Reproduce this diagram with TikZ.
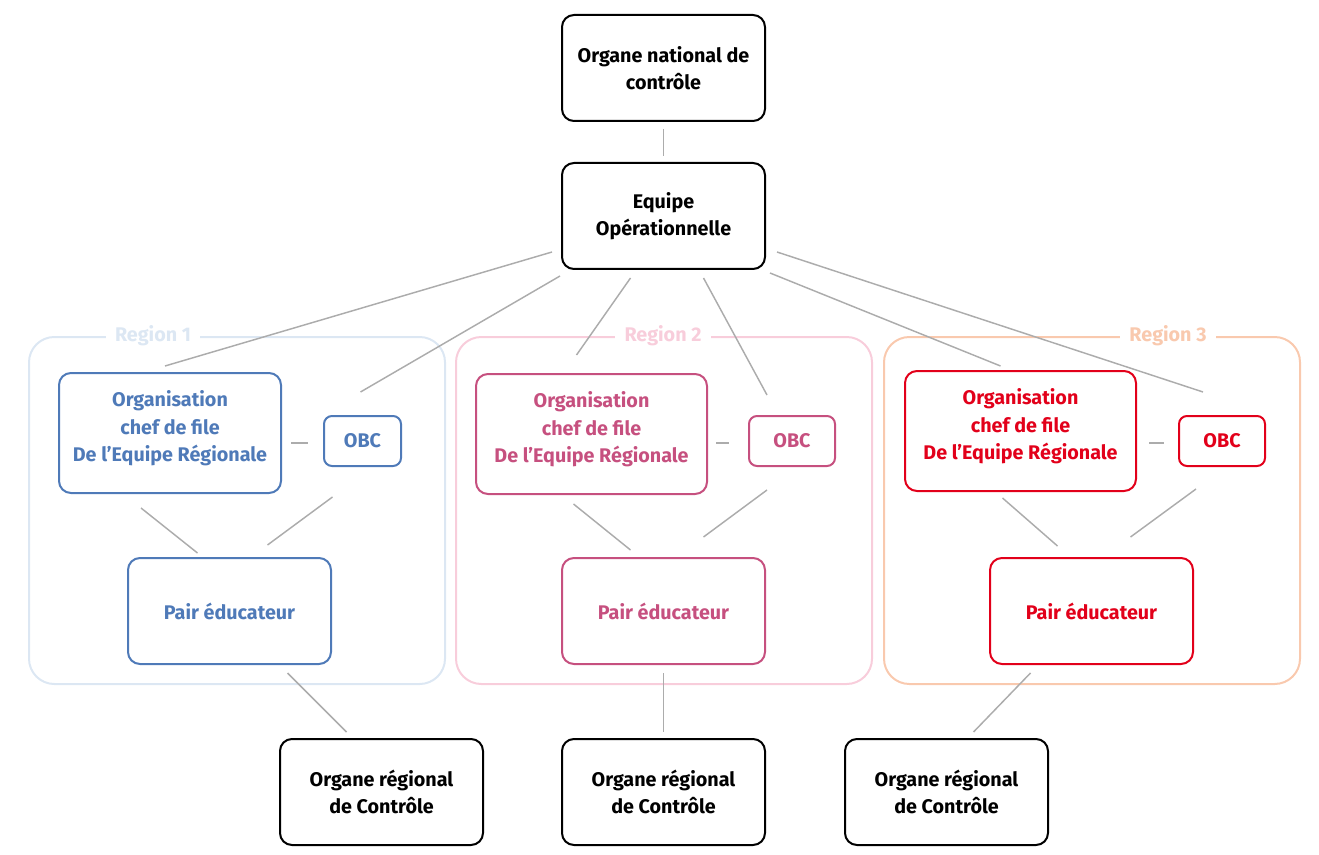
\documentclass[tikz,border=0pt]{standalone}
\usepackage{fontspec}
\setmainfont{Fira Sans}
\definecolor{blueR}{RGB}{79,122,184}
\definecolor{pinkR}{RGB}{198,80,127}
\definecolor{redR}{RGB}{226,0,26}
\definecolor{regA}{RGB}{220,231,243}
\definecolor{regB}{RGB}{248,205,219}
\definecolor{regC}{RGB}{249,201,174}
\definecolor{linkgray}{RGB}{172,172,172}
\begin{document}
\begin{tikzpicture}[x=0.75pt, y=-0.75pt,
  box/.style={draw, line width=1.5pt, rounded corners=9pt, align=center, inner sep=0pt,
    font=\bfseries\fontsize{14.8}{20.6}\selectfont, minimum width=152.25pt, minimum height=79.5pt},
  orgbox/.style={box, minimum height=90pt},
  obcbox/.style={box, minimum width=64.5pt, minimum height=37.5pt, rounded corners=6pt},
  regionbox/.style={line width=1.5pt, rounded corners=19pt},
  regionlabel/.style={fill=white, inner xsep=7pt, inner ysep=1pt, font=\bfseries\fontsize{14.8}{16}\selectfont},
  link/.style={draw=linkgray, line width=1.1pt}]

\useasboundingbox (0,0) rectangle (1319,855);

\draw[regionbox, draw=regA] (29,337) rectangle (445,684);
\draw[regionbox, draw=regB] (456,337) rectangle (872,684);
\draw[regionbox, draw=regC] (884,337) rectangle (1300,684);
\node[regionlabel, text=regA] (labA) at (153,336) {Region 1};
\node[regionlabel, text=regB] (labB) at (663,336) {Region 2};
\node[regionlabel, text=regC] (labC) at (1168,336) {Region 3};

\node[box] (nat) at (663.5,68) {Organe national de\\contrôle};
\node[box] (eq) at (663.5,216) {Equipe\\Opérationnelle};

\node[orgbox, draw=blueR, text=blueR, minimum width=166.5pt] (orgA) at (170,433) {Organisation\\chef de file\\De l’Equipe Régionale\\[-10.5pt]};
\node[orgbox, draw=pinkR, text=pinkR, minimum width=173.25pt] (orgB) at (591.5,434) {Organisation\\chef de file\\De l’Equipe Régionale\\[-10.5pt]};
\node[orgbox, draw=redR, text=redR, minimum width=173.25pt] (orgC) at (1020.5,431) {Organisation\\chef de file\\De l’Equipe Régionale\\[-10.5pt]};

\node[obcbox, draw=blueR, text=blueR, minimum width=57.75pt] (obcA) at (362.5,441) {OBC};
\node[obcbox, draw=pinkR, text=pinkR] (obcB) at (792,441) {OBC};
\node[obcbox, draw=redR, text=redR] (obcC) at (1222,441) {OBC};

\node[box, draw=blueR, text=blueR] (pairA) at (229.5,611) {Pair éducateur};
\node[box, draw=pinkR, text=pinkR] (pairB) at (663.5,611) {Pair éducateur};
\node[box, draw=redR, text=redR] (pairC) at (1091.5,611) {Pair éducateur};

\node[box] (orcA) at (381.5,792) {Organe régional\\de Contrôle};
\node[box] (orcB) at (663.5,792) {Organe régional\\de Contrôle};
\node[box] (orcC) at (946.5,792) {Organe régional\\de Contrôle};

\draw[link] ([shift={(0,7)}]nat.south) -- ([shift={(0,-6)}]eq.north);
\draw[link] ([shift={(-9,36)}]eq.west) -- ([shift={(-5,-6)}]orgA.north);
\draw[link] ([shift={(-1,6)}]eq.south west) -- ([shift={(-2,-23)}]obcA.north);
\draw[link] ([shift={(-33,8)}]eq.south) -- ([shift={(-15,-18)}]orgB.north);
\draw[link] ([shift={(40,8)}]eq.south) -- ([shift={(-25,-20)}]obcB.north);
\draw[link] ([shift={(4,3)}]eq.south east) -- ([shift={(-20,-4)}]orgC.north);
\draw[link] ([shift={(11,36)}]eq.east) -- ([shift={(-19,-23)}]obcC.north);

\draw[link] ([shift={(9,10)}]orgA.east) -- ([shift={(-15,2)}]obcA.west);
\draw[link] ([shift={(-29,14)}]orgA.south) -- ([shift={(-32,-4)}]pairA.north);
\draw[link] ([shift={(-30,30)}]obcA.south) -- ([shift={(38,-12)}]pairA.north);
\draw[link] ([shift={(58,8)}]pairA.south) -- ([shift={(-35,-6)}]orcA.north);

\draw[link] ([shift={(8,9)}]orgB.east) -- ([shift={(-19,2)}]obcB.west);
\draw[link] ([shift={(-18,9)}]orgB.south) -- ([shift={(-33,-7)}]pairB.north);
\draw[link] ([shift={(-25,23)}]obcB.south) -- ([shift={(40,-20)}]pairB.north);
\draw[link] ([shift={(0,8)}]pairB.south) -- ([shift={(0,-6)}]orcB.north);

\draw[link] ([shift={(12,12)}]orgC.east) -- ([shift={(-14,2)}]obcC.west);
\draw[link] ([shift={(-18,6)}]orgC.south) -- ([shift={(-34,-11)}]pairC.north);
\draw[link] ([shift={(-26,22)}]obcC.south) -- ([shift={(39,-20)}]pairC.north);
\draw[link] ([shift={(-61,8)}]pairC.south) -- ([shift={(27,-6)}]orcC.north);

\end{tikzpicture}
\end{document}
